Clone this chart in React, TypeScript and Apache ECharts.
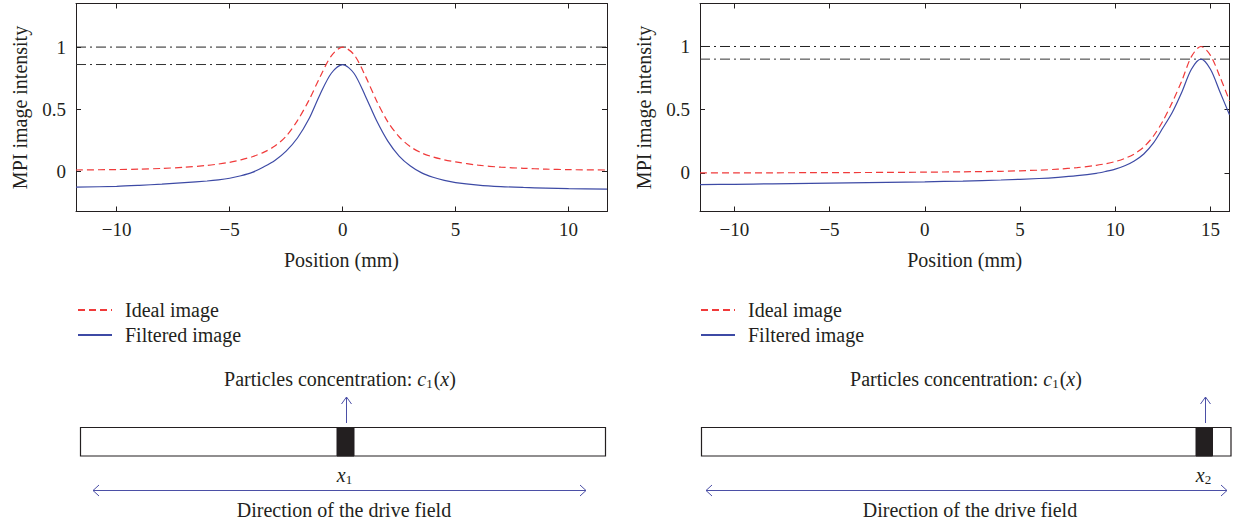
import { useEffect, useRef } from "react";
import * as echarts from "echarts";

// ---------- data ----------
const seriesNames = ["Ideal image", "Filtered image"];

const leftX = [-11.8, -10, -9, -8, -7, -6, -5.5, -5, -4.5, -4, -3.5, -3, -2.5, -2, -1.5, -1, -0.5, 0, 0.5, 1, 1.5, 2, 2.5, 3, 3.5, 4, 4.5, 5, 6, 7, 8, 9, 10, 11.7];
const leftIdeal = [0.013, 0.017, 0.02, 0.026, 0.035, 0.05, 0.061, 0.075, 0.095, 0.12, 0.155, 0.205, 0.285, 0.41, 0.57, 0.76, 0.93, 1.0, 0.94, 0.77, 0.57, 0.4, 0.28, 0.2, 0.15, 0.118, 0.095, 0.078, 0.052, 0.036, 0.027, 0.02, 0.016, 0.013];
const leftFiltered = [-0.125, -0.118, -0.11, -0.1, -0.088, -0.075, -0.066, -0.053, -0.033, -0.006, 0.038, 0.09, 0.165, 0.27, 0.42, 0.62, 0.79, 0.86, 0.79, 0.61, 0.41, 0.245, 0.125, 0.045, -0.01, -0.045, -0.07, -0.088, -0.108, -0.12, -0.127, -0.132, -0.136, -0.141];

const rightX = [-11.8, -10, -8, -6, -4, -2, 0, 2, 4, 6, 7, 8, 9, 9.5, 10, 10.5, 11, 11.5, 12, 12.5, 13, 13.5, 14, 14.5, 15, 15.5, 16];
const rightIdeal = [0.0, 0.0, 0.001, 0.002, 0.003, 0.004, 0.006, 0.009, 0.013, 0.022, 0.03, 0.042, 0.06, 0.073, 0.09, 0.115, 0.15, 0.205, 0.29, 0.41, 0.56, 0.73, 0.92, 1.0, 0.93, 0.76, 0.57];
const rightFiltered = [-0.092, -0.09, -0.086, -0.082, -0.078, -0.074, -0.07, -0.064, -0.056, -0.044, -0.035, -0.022, -0.003, 0.012, 0.03, 0.057, 0.095, 0.15, 0.235, 0.355, 0.48, 0.64, 0.82, 0.9, 0.82, 0.64, 0.46];

const leftLevels = [1, 0.86];
const rightLevels = [1, 0.9];

const xTicksLeft = [-10, -5, 0, 5, 10];
const xTicksRight = [-10, -5, 0, 5, 10, 15];
const yTicks = [0, 0.5, 1];

const leftXRange = [-11.8, 11.7];
const rightXRange = [-11.8, 16];
const leftYRange = [-0.32, 1.35];
const rightYRange = [-0.305, 1.34];

// ---------- style ----------
const INK = "#231f20";
const RED = "#f03a3a";
const BLUE = "#3d4aa5";
const ARROW = "#4b4fa6";
const FONT = "Liberation Serif";

const fmt = (v: number) => String(v).replace("-", "\u2212");

function axes(gridIndex: number, xr: number[], yr: number[], xt: number[]) {
  const line = { show: true, onZero: false, lineStyle: { color: INK, width: 1 } };
  const tick = { show: true, inside: true, length: 5, lineStyle: { color: INK, width: 1 } };
  const label = { fontFamily: FONT, fontSize: 19, color: INK, formatter: fmt };
  const name = { fontFamily: FONT, fontSize: 20, color: INK };
  const x = [
    {
      type: "value", gridIndex, position: "bottom", min: xr[0], max: xr[1],
      axisLine: line, axisTick: { ...tick, customValues: xt },
      axisLabel: { ...label, customValues: xt, margin: 8 },
      splitLine: { show: false },
      name: "Position (mm)", nameLocation: "middle", nameGap: 38, nameTextStyle: name,
    },
    {
      type: "value", gridIndex, position: "top", min: xr[0], max: xr[1],
      axisLine: line, axisTick: { ...tick, customValues: xt },
      axisLabel: { show: false }, splitLine: { show: false },
    },
  ];
  const y = [
    {
      type: "value", gridIndex, position: "left", min: yr[0], max: yr[1],
      axisLine: line, axisTick: { ...tick, customValues: yTicks },
      axisLabel: { ...label, customValues: yTicks, margin: 10 },
      splitLine: { show: false },
      name: "MPI image intensity", nameLocation: "middle", nameGap: 46, nameTextStyle: name,
    },
    {
      type: "value", gridIndex, position: "right", min: yr[0], max: yr[1],
      axisLine: line, axisTick: { ...tick, customValues: yTicks },
      axisLabel: { show: false }, splitLine: { show: false },
    },
  ];
  return { x, y };
}

function curves(xi: number, yi: number, xs: number[], ideal: number[], filtered: number[], levels: number[], xr: number[]) {
  const refs = levels.map((lv, i) => ({
    name: "level" + xi + "_" + i,
    type: "line", xAxisIndex: xi, yAxisIndex: yi, symbol: "none", silent: true,
    data: [[xr[0], lv], [xr[1], lv]],
    lineStyle: { color: i === 0 ? "#222222" : "#333333", width: 1, type: [10, 4, 2, 4] },
    z: 1,
  }));
  return [
    ...refs,
    {
      name: seriesNames[0], type: "line", xAxisIndex: xi, yAxisIndex: yi, symbol: "none", smooth: 0.3,
      data: xs.map((x, i) => [x, ideal[i]]),
      lineStyle: { color: RED, width: 1.2, type: [7, 4] }, itemStyle: { color: RED }, z: 3,
    },
    {
      name: seriesNames[1], type: "line", xAxisIndex: xi, yAxisIndex: yi, symbol: "none", smooth: 0.3,
      data: xs.map((x, i) => [x, filtered[i]]),
      lineStyle: { color: BLUE, width: 1.2 }, itemStyle: { color: BLUE }, z: 4,
    },
  ];
}

const rich = {
  i: { fontFamily: FONT, fontSize: 20, fontStyle: "italic", fill: INK, color: INK },
  n: { fontFamily: FONT, fontSize: 20, fill: INK, color: INK },
  s: { fontFamily: FONT, fontSize: 13, fill: INK, color: INK, padding: [9, 1, 0, 0] },
};

function diagram(d: {
  labelCx: number; arrowX: number; boxL: number; boxR: number; blockL: number; blockR: number;
  sub: string; subCx: number; dirL: number; dirR: number; dirCx: number;
}) {
  const els: any[] = [];
  els.push({
    type: "text", x: d.labelCx, y: 379,
    style: {
      text: "{n|Particles concentration: }{i|c}{s|1}{n|(}{i|x}{n|)}", rich,
      align: "center", verticalAlign: "middle", fontFamily: FONT, fontSize: 20, fill: INK,
    },
  });
  els.push({ type: "line", shape: { x1: d.arrowX, y1: 423, x2: d.arrowX, y2: 397 }, style: { stroke: ARROW, lineWidth: 1 } });
  els.push({ type: "polyline", shape: { points: [[d.arrowX - 5, 404], [d.arrowX, 397], [d.arrowX + 5, 404]] }, style: { stroke: ARROW, fill: null, lineWidth: 1 } });
  els.push({ type: "rect", shape: { x: d.boxL, y: 427.5, width: d.boxR - d.boxL, height: 28.5 }, style: { fill: "#fff", stroke: INK, lineWidth: 1.2 } });
  els.push({ type: "rect", shape: { x: d.blockL, y: 427.5, width: d.blockR - d.blockL, height: 28.5 }, style: { fill: INK, stroke: INK, lineWidth: 1 } });
  els.push({
    type: "text", x: d.subCx, y: 475,
    style: { text: "{i|x}{s|" + d.sub + "}", rich, align: "center", verticalAlign: "middle", fontFamily: FONT, fontSize: 20, fill: INK },
  });
  els.push({ type: "line", shape: { x1: d.dirL, y1: 490.5, x2: d.dirR, y2: 490.5 }, style: { stroke: ARROW, lineWidth: 1 } });
  els.push({ type: "polyline", shape: { points: [[d.dirL + 6, 485], [d.dirL, 490.5], [d.dirL + 6, 496]] }, style: { stroke: ARROW, fill: null, lineWidth: 1 } });
  els.push({ type: "polyline", shape: { points: [[d.dirR - 6, 485], [d.dirR, 490.5], [d.dirR - 6, 496]] }, style: { stroke: ARROW, fill: null, lineWidth: 1 } });
  els.push({
    type: "text", x: d.dirCx, y: 510,
    style: { text: "Direction of the drive field", align: "center", verticalAlign: "middle", fontFamily: FONT, fontSize: 20, fill: INK },
  });
  return els;
}

export default function App() {
  const ref = useRef<HTMLDivElement>(null);
  useEffect(() => {
    document.body.style.margin = "0";
    if (!ref.current) return;
    const chart = echarts.init(ref.current, undefined, { renderer: "svg" });
    const a = axes(0, leftXRange, leftYRange, xTicksLeft);
    const b = axes(1, rightXRange, rightYRange, xTicksRight);
    const legendBase = {
      orient: "vertical", itemWidth: 34, itemHeight: 12, itemGap: 5, data: seriesNames,
      itemStyle: { opacity: 0 },
      textStyle: { fontFamily: FONT, fontSize: 20, color: INK, padding: [0, 0, 0, 8] },
      selectedMode: false, top: 295,
    };
    chart.setOption({
      animation: false,
      backgroundColor: "#ffffff",
      grid: [
        { left: 76, top: 3.5, width: 531, height: 208 },
        { left: 700, top: 3.5, width: 529.5, height: 208 },
      ],
      xAxis: [...a.x, ...b.x],
      yAxis: [...a.y, ...b.y],
      legend: [
        { ...legendBase, left: 72 },
        { ...legendBase, left: 695 },
      ],
      series: [
        ...curves(0, 0, leftX, leftIdeal, leftFiltered, leftLevels, leftXRange),
        ...curves(2, 2, rightX, rightIdeal, rightFiltered, rightLevels, rightXRange),
      ],
      graphic: [
        ...diagram({ labelCx: 340, arrowX: 346.5, boxL: 80.5, boxR: 605.5, blockL: 337, blockR: 354, sub: "1", subCx: 345, dirL: 93, dirR: 586, dirCx: 344 }),
        ...diagram({ labelCx: 966, arrowX: 1205.5, boxL: 701.5, boxR: 1231, blockL: 1196, blockR: 1212.5, sub: "2", subCx: 1204, dirL: 706, dirR: 1227, dirCx: 970 }),
      ],
    });
    return () => chart.dispose();
  }, []);
  return <div ref={ref} style={{ width: 1233, height: 527 }} />;
}
